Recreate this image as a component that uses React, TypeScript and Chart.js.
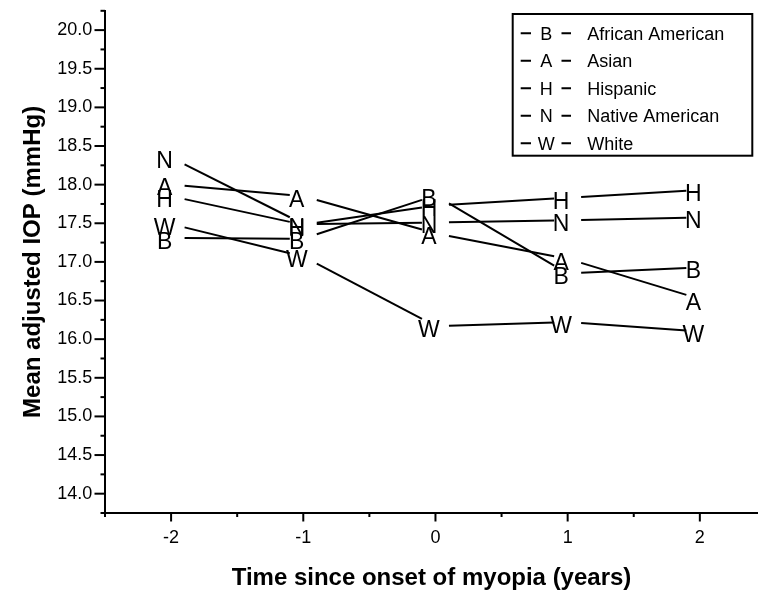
import React, { useEffect, useRef } from 'react';
import { Chart, registerables } from 'chart.js';

Chart.register(...registerables);

// ---- data ----
const years = [-2, -1, 0, 1, 2];
const groupNames = ['African American', 'Asian', 'Hispanic', 'Native American', 'White'];
const groupLetters = ['B', 'A', 'H', 'N', 'W'];
const africanAmerican = [17.31, 17.3, 17.86, 16.85, 16.93];
const asian = [18.0, 17.85, 17.37, 17.04, 16.52];
const hispanic = [17.85, 17.48, 17.73, 17.83, 17.93];
const nativeAmerican = [18.35, 17.49, 17.51, 17.54, 17.575];
const white = [17.49, 17.07, 16.17, 16.22, 16.1];
const seriesValues = [africanAmerican, asian, hispanic, nativeAmerican, white];

const yMinorStep = 0.25;
const yMajorStep = 0.5;
const xMinorStep = 0.5;
const xMajorStep = 1;

const FONT = "'Liberation Sans', Arial, sans-serif";

const isMultiple = (v: number, step: number) => Math.abs(v / step - Math.round(v / step)) < 1e-6;

const stepsBetween = (min: number, max: number, step: number) => {
  const out: number[] = [];
  const first = Math.ceil(min / step - 1e-9);
  const last = Math.floor(max / step + 1e-9);
  for (let k = first; k <= last; k++) out.push(k * step);
  return out;
};

const letterLinesPlugin = {
  id: 'letterLines',
  afterDatasetsDraw(chart: any) {
    const ctx = chart.ctx;
    const gap = 13.5;
    ctx.save();
    chart.data.datasets.forEach((ds: any, di: number) => {
      const meta = chart.getDatasetMeta(di);
      const pts = meta.data;
      ctx.strokeStyle = '#000';
      ctx.lineWidth = 2;
      for (let i = 0; i < pts.length - 1; i++) {
        const p0 = pts[i];
        const p1 = pts[i + 1];
        const dx = p1.x - p0.x;
        const dy = p1.y - p0.y;
        const t0 = gap / dx;
        const t1 = 1 - gap / dx;
        ctx.beginPath();
        ctx.moveTo(p0.x + dx * t0, p0.y + dy * t0);
        ctx.lineTo(p0.x + dx * t1, p0.y + dy * t1);
        ctx.stroke();
      }
      ctx.fillStyle = '#000';
      ctx.font = `23px ${FONT}`;
      ctx.textAlign = 'center';
      ctx.textBaseline = 'alphabetic';
      pts.forEach((p: any) => {
        ctx.fillText(ds.letter, p.x - 6.5, p.y + 2.5 + 23 * 0.358);
      });
    });
    ctx.restore();
  },
};

const tickMarksPlugin = {
  id: 'tickMarks',
  afterDraw(chart: any) {
    const ctx = chart.ctx;
    const xs = chart.scales.x;
    const ys = chart.scales.y;
    ctx.save();
    ctx.strokeStyle = '#000';
    ctx.lineWidth = 2;
    stepsBetween(ys.min, ys.max, yMinorStep).forEach((v) => {
      const py = ys.getPixelForValue(v);
      const len = isMultiple(v, yMajorStep) ? 10.5 : 4.5;
      ctx.beginPath();
      ctx.moveTo(ys.right - len, py);
      ctx.lineTo(ys.right, py);
      ctx.stroke();
    });
    stepsBetween(xs.min, xs.max, xMinorStep).forEach((v) => {
      const px = xs.getPixelForValue(v);
      const len = isMultiple(v, xMajorStep) ? 8.5 : 4;
      ctx.beginPath();
      ctx.moveTo(px, xs.top);
      ctx.lineTo(px, xs.top + len);
      ctx.stroke();
    });
    ctx.restore();
  },
};

const boxLegendPlugin = {
  id: 'boxLegend',
  afterDraw(chart: any) {
    const ctx = chart.ctx;
    const left = 512.7;
    const top = 14;
    const right = 752.3;
    const bottom = 155.7;
    ctx.save();
    ctx.strokeStyle = '#000';
    ctx.lineWidth = 2;
    ctx.strokeRect(left, top, right - left, bottom - top);
    chart.data.datasets.forEach((ds: any, i: number) => {
      const cy = 33.3 + i * 27.5;
      ctx.lineWidth = 2;
      ctx.beginPath();
      ctx.moveTo(520.7, cy);
      ctx.lineTo(531, cy);
      ctx.moveTo(561.5, cy);
      ctx.lineTo(571, cy);
      ctx.stroke();
      ctx.fillStyle = '#000';
      ctx.font = `18px ${FONT}`;
      ctx.textBaseline = 'alphabetic';
      ctx.textAlign = 'center';
      ctx.fillText(ds.letter, 546.2, cy + 18 * 0.358);
      ctx.textAlign = 'left';
      ctx.fillText(ds.label, 587.3, cy + 18 * 0.358);
    });
    ctx.restore();
  },
};

export default function App() {
  const canvasRef = useRef<HTMLCanvasElement | null>(null);

  useEffect(() => {
    if (!canvasRef.current) return;
    const datasets = seriesValues.map((vals, i) => ({
      label: groupNames[i],
      letter: groupLetters[i],
      data: years.map((yr, j) => ({ x: yr, y: vals[j] })),
      showLine: false,
      pointRadius: 0,
      borderColor: '#000',
      backgroundColor: '#000',
    }));

    const chart = new Chart(canvasRef.current, {
      type: 'line',
      data: { datasets } as any,
      options: {
        animation: false,
        responsive: false,
        devicePixelRatio: 1,
        events: [],
        layout: { padding: { top: 8.5, right: 0, left: 0, bottom: 0 } },
        plugins: {
          legend: { display: false },
          tooltip: { enabled: false },
          title: { display: false },
        },
        scales: {
          x: {
            type: 'linear',
            min: -2.5,
            max: 2.44,
            afterFit: (s: any) => {
              s.height = 85;
            },
            ticks: {
              stepSize: xMinorStep,
              includeBounds: false,
              autoSkip: false,
              maxRotation: 0,
              padding: 0,
              color: '#000',
              font: { family: FONT, size: 18 },
              callback: (v: any) => (isMultiple(Number(v), xMajorStep) ? String(Math.round(Number(v))) : null),
            },
            grid: {
              display: true,
              drawOnChartArea: false,
              drawTicks: true,
              tickLength: 14,
              tickColor: 'rgba(0,0,0,0)',
              color: 'rgba(0,0,0,0)',
            },
            border: { display: true, color: '#000', width: 2 },
            title: {
              display: true,
              text: 'Time since onset of myopia (years)',
              color: '#000',
              font: { family: FONT, size: 24, weight: 'bold' },
              padding: { top: 0, bottom: 5 },
            },
          },
          y: {
            type: 'linear',
            min: 13.75,
            max: 20.25,
            afterFit: (s: any) => {
              s.width = 105;
            },
            ticks: {
              stepSize: yMinorStep,
              includeBounds: false,
              autoSkip: false,
              padding: 0,
              color: '#000',
              font: { family: FONT, size: 18 },
              callback: (v: any) => (isMultiple(Number(v), yMajorStep) ? Number(v).toFixed(1) : null),
            },
            grid: {
              display: true,
              drawOnChartArea: false,
              drawTicks: true,
              tickLength: 12.7,
              tickColor: 'rgba(0,0,0,0)',
              color: 'rgba(0,0,0,0)',
            },
            border: { display: true, color: '#000', width: 2 },
            title: {
              display: true,
              text: 'Mean adjusted IOP (mmHg)',
              color: '#000',
              font: { family: FONT, size: 24, weight: 'bold' },
              padding: { top: 19, bottom: 0 },
            },
          },
        },
      } as any,
      plugins: [letterLinesPlugin, tickMarksPlugin, boxLegendPlugin],
    });
    return () => chart.destroy();
  }, []);

  return (
    <div style={{ position: 'fixed', left: 0, top: 0, width: 758, height: 598, background: '#fff' }}>
      <canvas ref={canvasRef} width={758} height={598} style={{ display: 'block' }} />
    </div>
  );
}
